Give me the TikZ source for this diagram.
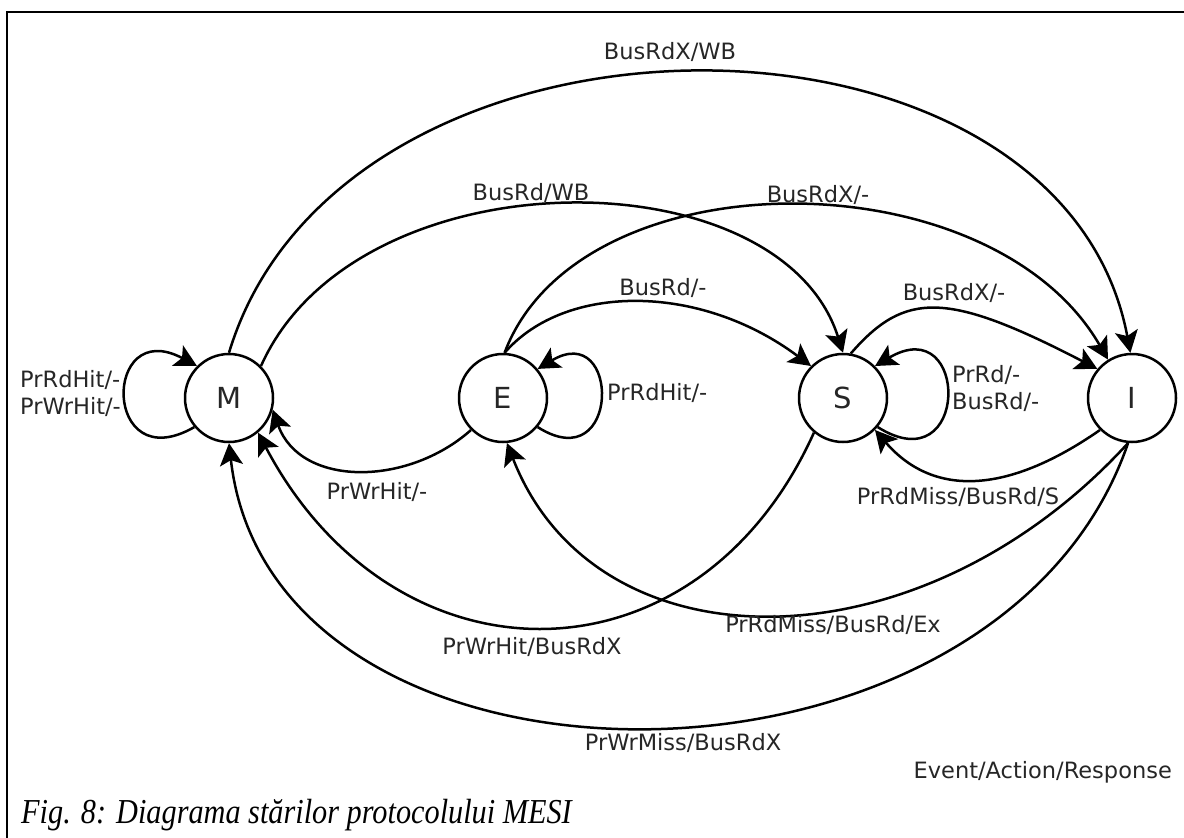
\documentclass[tikz,border=0pt]{standalone}
\usepackage{fontspec}
\setmainfont{Liberation Serif}
\newfontfamily\labelfont{DejaVu Sans}
\newfontfamily\captionfont[FakeStretch=0.865]{Liberation Serif}
\usetikzlibrary{arrows.meta}

\begin{document}
\begin{tikzpicture}[x=1pt,y=-1pt,
  state/.style={circle,draw,line width=2.5pt,minimum size=88pt,inner sep=0pt,
    font=\labelfont\fontsize{29}{32}\selectfont,text=black!85},
  lbl/.style={inner sep=0pt,font=\labelfont\fontsize{22.5}{27}\selectfont,text=black!85},
  trans/.style={line width=2.5pt,-{Stealth[length=22pt,width=23pt,inset=5pt]}},
]
\useasboundingbox (0,0) rectangle (1184,838);

% frame
\draw[line width=1.3pt] (7,838) -- (7,12) -- (1184,12);

% states
\node[state] (M) at (229,398) {M};
\node[state] (E) at (503,398) {E};
\node[state] (S) at (843,398) {S};
\node[state] (I) at (1132,398) {I};

% self loops
\draw[trans] (M.220) .. controls (102,480) and (102,315) .. (M.135);
\draw[trans] (E.-40) .. controls (621,480) and (621,319) .. (E.40);
\draw[trans] (S.-40) .. controls (970,485) and (970,310) .. (S.45);

% upper transitions (bus snooping)
\draw[trans] (M.90) .. controls (342,-21) and (1060,-21) .. (I.92);
\draw[trans] (M.45) .. controls (356,153) and (780,153) .. (S.90);
\draw[trans] (E.88) .. controls (579,155) and (990,155) .. (I.122);
\draw[trans] (E.88) .. controls (565,283) and (700,283) .. (S.135);
\draw[trans] (S.80) .. controls (905,291) and (947,291) .. (I.140);

% lower transitions (processor requests)
\draw[trans] (E.-135) .. controls (407,487) and (300,487) .. (M.-15);
\draw[trans] (S.-130) .. controls (697,692) and (395,692) .. (M.-50);
\draw[trans] (I.-95) .. controls (919,672) and (596,672) .. (E.-85);
\draw[trans] (I.-135) .. controls (1005,496) and (932,496) .. (S.-45);
\draw[trans] (I.-95) .. controls (998,822) and (272,822) .. (M.-90);

% labels
\node[lbl,anchor=west,align=left] (lM) at (20,393) {PrRdHit/-\\PrWrHit/-};
\node[lbl] (lMI) at (670,52) {BusRdX/WB};
\node[lbl] (lMS) at (531,193) {BusRd/WB};
\node[lbl] (lEI) at (818,195) {BusRdX/-};
\node[lbl] (lES) at (663,288) {BusRd/-};
\node[lbl] (lSI) at (954,293) {BusRdX/-};
\node[lbl,anchor=west] (lE) at (607,393) {PrRdHit/-};
\node[lbl,anchor=west,align=left] (lS) at (952,388) {PrRd/-\\BusRd/-};
\node[lbl] (lEM) at (377,492) {PrWrHit/-};
\node[lbl] (lSM) at (532,647) {PrWrHit/BusRdX};
\node[lbl] (lIE) at (833,625) {PrRdMiss/BusRd/Ex};
\node[lbl] (lIS) at (958,497) {PrRdMiss/BusRd/S};
\node[lbl] (lIM) at (683,743) {PrWrMiss/BusRdX};
\node[lbl,anchor=east] (legend) at (1172,772) {Event/Action/Response};

% caption
\node[inner sep=0pt,anchor=base west,font=\captionfont\fontsize{35}{40}\selectfont\itshape]
  (caption) at (21,823) {Fig. 8: Diagrama stărilor protocolului MESI};
\end{tikzpicture}
\end{document}
